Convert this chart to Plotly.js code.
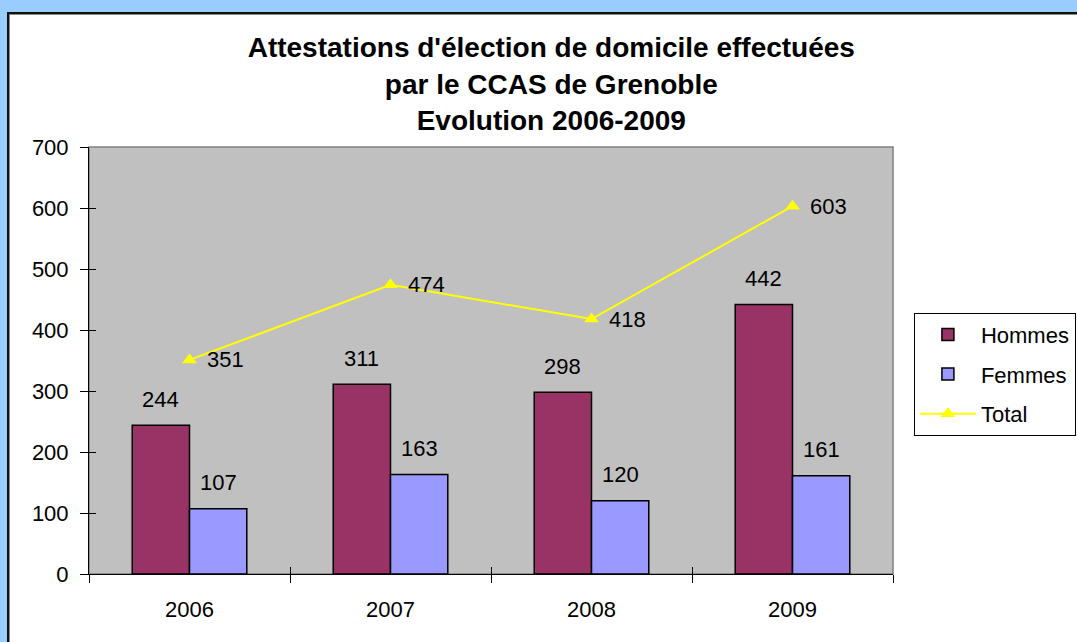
<!DOCTYPE html>
<html>
<head>
<meta charset="utf-8">
<script src="https://cdn.plot.ly/plotly-3.0.1.min.js"></script>
<style>
html,body{margin:0;padding:0;width:1077px;height:642px;overflow:hidden;background:#99CCFF;}
#frame{position:absolute;left:7px;top:12px;width:1100px;height:700px;background:#fff;border-top:2px solid #111;border-left:2px solid #111;box-shadow:inset 1px 1px 0 #888;}
#chart{position:absolute;left:0;top:0;width:1077px;height:642px;}
</style>
</head>
<body>
<div id="frame"></div>
<div id="chart"></div>
<script>
const categories = ['2006', '2007', '2008', '2009'];
const hommes = [244, 311, 298, 442];
const femmes = [107, 163, 120, 161];
const total = [351, 474, 418, 603];
const yTicks = [0, 100, 200, 300, 400, 500, 600, 700];
const titleText = "Attestations d'élection de domicile effectuées<br>par le CCAS de Grenoble<br>Evolution 2006-2009";

const FONT = 'Liberation Sans, Arial, sans-serif';
const fs = 22;

const traces = [
  {type:'bar', name:'Hommes', x:categories, y:hommes, legendgroup:'a',
   marker:{color:'#993366', line:{color:'#000', width:1.5}}, hoverinfo:'skip'},
  {type:'bar', name:'Femmes', x:categories, y:femmes, legendgroup:'b',
   marker:{color:'#9999FF', line:{color:'#000', width:1.5}}, hoverinfo:'skip'},
  {type:'scatter', mode:'lines+markers', name:'Total', x:categories, y:total, legendgroup:'c',
   line:{color:'#FFFF00', width:2}, marker:{symbol:'triangle-up', size:13, color:'#FFFF00'}, hoverinfo:'skip'},
  {type:'scatter', x:[], y:[], xaxis:'x2', yaxis:'y', showlegend:false},
  {type:'scatter', x:[], y:[], xaxis:'x3', yaxis:'y', showlegend:false},
  {type:'scatter', x:[], y:[], xaxis:'x', yaxis:'y2', showlegend:false}
];

// category axis: annotation x given as category index (names look numeric)
const annotations = [];
categories.forEach((c, i) => {
  annotations.push({x:i, y:hommes[i], xref:'x', yref:'y', text:String(hommes[i]), showarrow:false,
    xshift:-29, yshift:26, font:{family:FONT, size:fs, color:'#000'}});
  annotations.push({x:i, y:femmes[i], xref:'x', yref:'y', text:String(femmes[i]), showarrow:false,
    xshift:29, yshift:26, font:{family:FONT, size:fs, color:'#000'}});
  annotations.push({x:i, y:total[i], xref:'x', yref:'y', text:String(total[i]), showarrow:false,
    xanchor:'left', xshift:15, yshift:0, font:{family:FONT, size:fs, color:'#000'}});
});

const n = categories.length;
const bounds = [];
for (let k = 0; k <= n; k++) bounds.push(k - 0.5);

const layout = {
  width:1077, height:642,
  margin:{l:89, r:184, t:147, b:68, autoexpand:false},
  paper_bgcolor:'rgba(0,0,0,0)',
  plot_bgcolor:'#C0C0C0',
  font:{family:FONT, size:fs, color:'#000'},
  title:{text:titleText, x:0.575, xref:'paper', xanchor:'center', y:0.911, yref:'container', yanchor:'middle',
         font:{family:FONT, size:28, color:'#000', weight:'bold'}},
  barmode:'group', bargap:0.43, bargroupgap:0,
  showlegend:true,
  legend:{x:1.026, xanchor:'left', y:0.612, yanchor:'top', bgcolor:'#fff', bordercolor:'#000', borderwidth:1,
          font:{family:FONT, size:fs, color:'#000'}, itemwidth:56, tracegroupgap:8, traceorder:'grouped'},
  xaxis:{type:'category', range:[-0.5, n-0.5], showgrid:false, zeroline:false, showline:true, linecolor:'#000', linewidth:1,
         ticks:'', ticklabelstandoff:16, tickfont:{family:FONT, size:fs}},
  xaxis2:{overlaying:'x', anchor:'y', range:[-0.5, n-0.5], tickvals:bounds, ticks:'outside', ticklen:8, tickcolor:'#000',
          showticklabels:false, showgrid:false, zeroline:false, showline:false},
  xaxis3:{overlaying:'x', anchor:'y', range:[-0.5, n-0.5], tickvals:bounds, ticks:'inside', ticklen:7, tickcolor:'#000',
          showticklabels:false, showgrid:false, zeroline:false, showline:false},
  yaxis:{range:[0, 700], tickvals:yTicks, ticks:'outside', ticklen:8, tickcolor:'#000', showgrid:false, zeroline:false,
         showline:true, linecolor:'#000', linewidth:1, ticklabelstandoff:7, tickfont:{family:FONT, size:fs}},
  yaxis2:{overlaying:'y', anchor:'x', side:'left', range:[0, 700], tickvals:yTicks, ticks:'inside', ticklen:7, tickcolor:'#000',
          showticklabels:false, showgrid:false, zeroline:false, showline:false},
  shapes:[{type:'rect', xref:'paper', yref:'paper', x0:0, x1:1, y0:0, y1:1, line:{color:'#808080', width:1.5}, fillcolor:'rgba(0,0,0,0)', layer:'below'}],
  annotations:annotations
};

Plotly.newPlot('chart', traces, layout, {displayModeBar:false, staticPlot:true});
</script>
</body>
</html>
